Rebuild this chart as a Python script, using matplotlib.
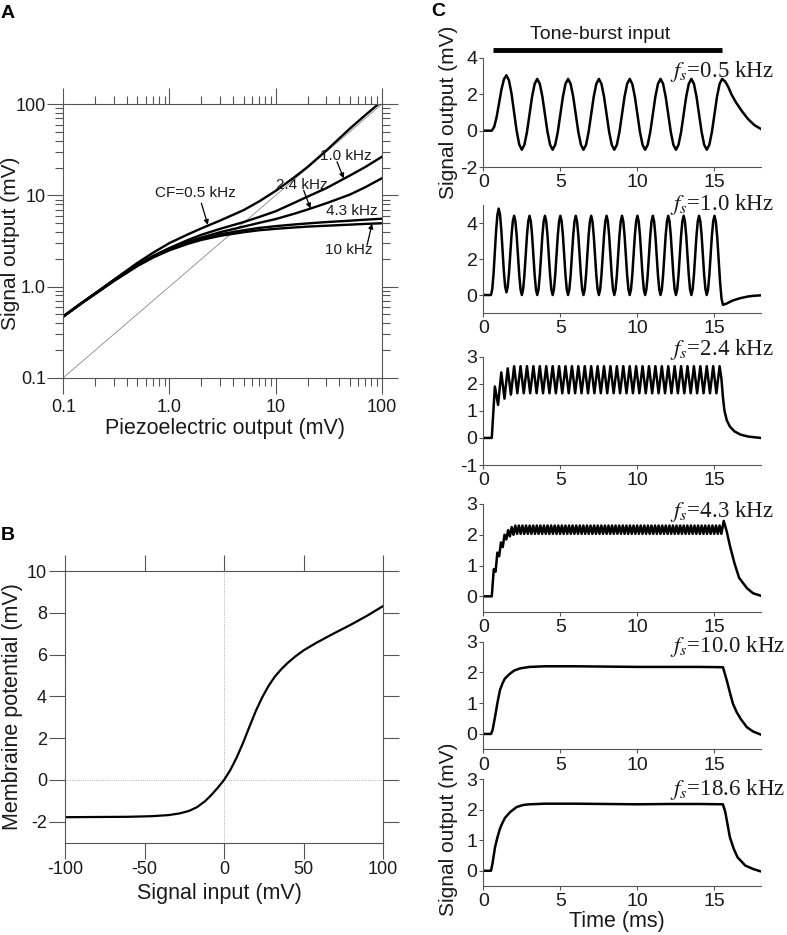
import numpy as np
import matplotlib
matplotlib.use('Agg')
import matplotlib.pyplot as plt
from matplotlib.ticker import LogLocator, NullFormatter, FixedLocator, FixedFormatter

plt.rcParams['font.family'] = ['Liberation Sans', 'DejaVu Sans']
plt.rcParams['mathtext.fontset'] = 'stix'
plt.rcParams['axes.unicode_minus'] = False

# ---------------- data ----------------
# A: signal output vs piezoelectric output for each CF
piezo_mV = [0.1, 0.15, 0.2, 0.3, 0.5, 0.7, 1, 1.5, 2, 3, 5, 7, 10, 15, 20, 30, 50, 70, 100]
out_cf05 = [0.47, 0.665, 0.845, 1.19, 1.82, 2.35, 3.0, 3.75, 4.35, 5.3, 6.9, 8.6, 11.2, 15.8, 20.5, 31.0, 54.0, 76.0, 108.0]
out_cf10 = [0.47, 0.665, 0.84, 1.175, 1.74, 2.17, 2.65, 3.25, 3.7, 4.3, 5.1, 5.8, 6.7, 8.3, 9.7, 12.0, 16.5, 20.5, 26.5]
out_cf24 = [0.47, 0.665, 0.84, 1.17, 1.72, 2.14, 2.6, 3.1, 3.45, 3.95, 4.55, 5.0, 5.5, 6.3, 7.0, 8.2, 10.2, 12.3, 15.4]
out_cf43 = [0.47, 0.66, 0.835, 1.16, 1.7, 2.11, 2.55, 3.02, 3.35, 3.75, 4.15, 4.4, 4.6, 4.8, 4.93, 5.1, 5.28, 5.42, 5.55]
out_cf100 = [0.47, 0.66, 0.83, 1.15, 1.68, 2.08, 2.5, 2.95, 3.25, 3.6, 3.95, 4.15, 4.3, 4.45, 4.55, 4.65, 4.78, 4.87, 4.95]

# B: membrane potential vs signal input
sig_in = [-100, -80, -60, -45, -35, -28, -22, -17, -12, -8, -4, 0, 4, 8, 12, 16, 20, 24, 28,
          32, 36, 40, 45, 50, 58, 68, 80, 90, 100]
memb_pot = [-1.78, -1.77, -1.76, -1.73, -1.68, -1.6, -1.48, -1.3, -1.02, -0.72, -0.38, 0.0,
            0.48, 1.08, 1.78, 2.55, 3.3, 3.95, 4.5, 4.95, 5.3, 5.6, 5.92, 6.2, 6.56, 6.97,
            7.44, 7.86, 8.32]

# C: time traces
tone_on, tone_off = 0.6, 15.5
# shape of one half cycle (fraction of time -> fraction of swing)
half_frac = [1/6, 2/6, 3/6, 4/6, 5/6]
half_shape = [0.07, 0.25, 0.5, 0.75, 0.93]

# 0.5 kHz
fs05_first, fs05_peaks, fs05_troughs = 1.5, [3.05] + [2.85] * 7, [-1.05] * 7
fs05_lead_t, fs05_lead_v = [0, 0.55], [0, 0]
fs05_tail_t = [15.7, 15.9, 16.1, 16.4, 16.8, 17.2, 17.6, 18.0]
fs05_tail_v = [2.7, 2.4, 2.0, 1.55, 1.05, 0.62, 0.3, 0.1]

# 1.0 kHz
fs10_first, fs10_peaks, fs10_troughs = 1.0, [4.8] + [4.4] * 14, [0.15] + [0.0] * 13
fs10_lead_t, fs10_lead_v = [0, 0.5], [0, 0]
fs10_drop_t, fs10_drop_v = [15.55], [-0.55]
fs10_tail_t = [15.8, 16.2, 16.7, 17.2, 17.6, 18.0]
fs10_tail_v = [-0.47, -0.3, -0.17, -0.08, -0.04, -0.02]

# 2.4 kHz
fs24_first = 0.75
fs24_peaks = [1.9, 2.42, 2.57] + [2.65] * 33
fs24_troughs = [1.22, 1.45, 1.6] + [1.65] * 32
fs24_lead_t, fs24_lead_v = [0, 0.55], [0, 0]
fs24_tail_t = [15.45, 15.55, 15.65, 15.8, 16.0, 16.3, 16.7, 17.2, 18.0]
fs24_tail_v = [2.2, 1.5, 1.0, 0.65, 0.42, 0.24, 0.12, 0.05, 0.0]

# 4.3 kHz
fs43_first = 0.68
fs43_peaks = [0.88, 1.42, 1.75, 2.0, 2.15, 2.25] + [2.3] * 58
fs43_troughs = [0.8, 1.3, 1.6, 1.85, 1.95, 2.0] + [2.03] * 58
fs43_lead_t, fs43_lead_v = [0, 0.55], [0, 0]
fs43_tail_t = [15.6, 15.8, 16.0, 16.3, 16.6, 17.1, 17.5, 18.0]
fs43_tail_v = [2.45, 2.1, 1.65, 1.07, 0.6, 0.27, 0.1, 0.02]

# 10.0 kHz
fs100_t = [0, 0.5, 0.6, 0.76, 0.92, 1.08, 1.25, 1.4, 1.73, 2.0, 2.37, 3.0, 4, 6, 8, 10, 12, 14,
           15.55, 15.8, 16.0, 16.2, 16.45, 16.7, 17.1, 17.5, 18.0]
fs100_v = [0, 0, 0.12, 0.55, 1.02, 1.42, 1.65, 1.8, 1.96, 2.06, 2.13, 2.18, 2.2, 2.2, 2.19, 2.18,
           2.18, 2.18, 2.17, 1.74, 1.35, 0.98, 0.7, 0.49, 0.22, 0.08, -0.02]

# 18.6 kHz
fs186_t = [0, 0.5, 0.6, 0.76, 0.92, 1.08, 1.25, 1.4, 1.73, 2.16, 2.6, 3.0, 4, 6, 8, 10, 12, 14,
           15.55, 15.7, 16.0, 16.25, 16.5, 17.0, 17.5, 18.0]
fs186_v = [0, 0, 0.25, 0.77, 1.1, 1.38, 1.58, 1.73, 1.92, 2.09, 2.16, 2.18, 2.2, 2.2, 2.19, 2.18,
           2.19, 2.19, 2.18, 1.93, 1.1, 0.72, 0.44, 0.17, 0.06, -0.02]

fs_labels = ['0.5', '1.0', '2.4', '4.3', '10.0', '18.6']


def extrema(t_first, fs_khz, peaks, troughs):
    half = 0.5 / fs_khz
    vals = []
    for i in range(len(peaks) + len(troughs)):
        vals.append(peaks[i // 2] if i % 2 == 0 else troughs[i // 2])
    times = list(t_first + half * np.arange(len(vals)))
    return times, vals


def shaped(ts, vs, frac=None, shape=None):
    if frac is None:
        return list(ts), list(vs)
    out_t, out_v = [ts[0]], [vs[0]]
    for i in range(1, len(ts)):
        for f, s in zip(frac, shape):
            out_t.append(ts[i-1] + f * (ts[i] - ts[i-1]))
            out_v.append(vs[i-1] + s * (vs[i] - vs[i-1]))
        out_t.append(ts[i])
        out_v.append(vs[i])
    return out_t, out_v


def osc_trace(lead_t, lead_v, first, fs, peaks, troughs, tail_t, tail_v,
              drop_t=(), drop_v=(), frac=None, shape=None):
    et, ev = extrema(first, fs, peaks, troughs)
    ct = [lead_t[-1]] + et + list(drop_t)
    cv = [lead_v[-1]] + ev + list(drop_v)
    ct, cv = shaped(ct, cv, frac, shape)
    t = list(lead_t[:-1]) + ct + list(tail_t)
    v = list(lead_v[:-1]) + cv + list(tail_v)
    return t, v


traces = [
    osc_trace(fs05_lead_t, fs05_lead_v, fs05_first, 0.5, fs05_peaks, fs05_troughs,
              fs05_tail_t, fs05_tail_v, frac=half_frac, shape=half_shape),
    osc_trace(fs10_lead_t, fs10_lead_v, fs10_first, 1.0, fs10_peaks, fs10_troughs,
              fs10_tail_t, fs10_tail_v, fs10_drop_t, fs10_drop_v,
              frac=half_frac, shape=half_shape),
    osc_trace(fs24_lead_t, fs24_lead_v, fs24_first, 2.4, fs24_peaks, fs24_troughs,
              fs24_tail_t, fs24_tail_v),
    osc_trace(fs43_lead_t, fs43_lead_v, fs43_first, 4.3, fs43_peaks, fs43_troughs,
              fs43_tail_t, fs43_tail_v),
    (fs100_t, fs100_v),
    (fs186_t, fs186_v),
]

# ---------------- figure ----------------
W, H = 787, 935
fig = plt.figure(figsize=(W / 100, H / 100), dpi=100)
spine_c = '#555555'
txt_c = '#1a1a1a'


def px_axes(left, top, right, bottom):
    return fig.add_axes([left / W, 1 - bottom / H, (right - left) / W, (bottom - top) / H])


# ---- panel A
axA = px_axes(63.3, 104.3, 381.7, 377.7)
axA.set_xscale('log')
axA.set_yscale('log')
axA.plot([0.1, 100], [0.1, 100], color='#888888', lw=0.6)
for yv in [out_cf05, out_cf10, out_cf24, out_cf43, out_cf100]:
    axA.plot(piezo_mV, yv, color='k', lw=1.7)
axA.set_xlim(0.1, 100)
axA.set_ylim(0.1, 100)
for ax_ in (axA.xaxis, axA.yaxis):
    ax_.set_major_locator(FixedLocator([0.1, 1, 10, 100]))
    ax_.set_major_formatter(FixedFormatter(['0.1', '1.0', '10', '100']))
    ax_.set_minor_locator(LogLocator(base=10, subs=np.arange(2, 10)))
    ax_.set_minor_formatter(NullFormatter())
axA.tick_params(which='both', direction='out', top=True, right=True,
                color=spine_c, width=0.8, labelsize=13, labelcolor=txt_c)
axA.tick_params(which='major', length=11.5)
axA.tick_params(which='minor', length=5.8)
axA.tick_params(axis='x', pad=3.5)
axA.tick_params(axis='y', pad=1)
for s in axA.spines.values():
    s.set_color(spine_c)
    s.set_linewidth(0.8)
axA.set_xlabel('Piezoelectric output (mV)', fontsize=15.5, color=txt_c)
axA.set_ylabel('Signal output (mV)', fontsize=15, color=txt_c)
axA.xaxis.set_label_coords(0.508, -0.147)
axA.yaxis.set_label_coords(-0.136, 0.49)

arr = dict(arrowstyle='-|>', color='k', lw=0.9, mutation_scale=7, shrinkA=0, shrinkB=0)
axA.text(1.75, 10.6, 'CF=0.5 kHz', fontsize=11, ha='center', va='center', color=txt_c)
axA.annotate('', xy=(2.3, 4.75), xytext=(2.0, 8.2), arrowprops=arr)
axA.text(46.2, 27.2, '1.0 kHz', fontsize=11, ha='center', va='center', color=txt_c)
axA.annotate('', xy=(43.9, 15.4), xytext=(37.9, 23.4), arrowprops=arr)
axA.text(17.7, 13.0, '2.4 kHz', fontsize=11, ha='center', va='center', color=txt_c)
axA.annotate('', xy=(21.3, 7.2), xytext=(18.4, 11.4), arrowprops=arr)
axA.text(52.6, 6.7, '4.3 kHz', fontsize=11, ha='center', va='center', color=txt_c)
axA.text(48.9, 2.5, '10 kHz', fontsize=11, ha='center', va='center', color=txt_c)
axA.annotate('', xy=(81.1, 4.9), xytext=(72.8, 2.84), arrowprops=arr)

# ---- panel B
axB = px_axes(65, 571, 383, 842.7)
axB.axvline(0, color='#999999', lw=0.6, ls=':')
axB.axhline(0, color='#999999', lw=0.6, ls=':')
axB.plot(sig_in, memb_pot, color='k', lw=1.6)
axB.set_xlim(-100, 100)
axB.set_ylim(-3, 10)
axB.set_xticks([-100, -50, 0, 50, 100])
axB.set_yticks([-2, 0, 2, 4, 6, 8, 10])
axB.tick_params(direction='out', top=True, right=True, length=11.5, width=0.8,
                color=spine_c, labelsize=13, labelcolor=txt_c)
axB.tick_params(axis='x', pad=1.5)
axB.tick_params(axis='y', pad=1.5)
for s in axB.spines.values():
    s.set_color(spine_c)
    s.set_linewidth(0.8)
axB.set_xlabel('Signal input (mV)', fontsize=15.5, color=txt_c)
axB.set_ylabel('Membraine potential (mV)', fontsize=15.5, color=txt_c)
axB.xaxis.set_label_coords(0.485, -0.148)
axB.yaxis.set_label_coords(-0.132, 0.5)

# ---- panel C
c_rows = [(58, 167), (205, 313), (356.7, 465), (504, 611.7), (641.7, 749.3), (779.3, 886)]
c_ylims = [(-2, 4), (-1, 5), (-1, 3), (-0.5, 3), (-0.5, 3), (-0.5, 3)]
c_yticks = [[-2, 0, 2, 4], [0, 2, 4], [-1, 0, 1, 2, 3], [0, 1, 2, 3], [0, 1, 2, 3], [0, 1, 2, 3]]
c_label_y = [0.874, 1.009, 1.062, 0.929, 0.954, 0.90]
axesC = []
for k, (top, bot) in enumerate(c_rows):
    ax = px_axes(483.3, top, 760.7, bot)
    t, v = traces[k]
    ax.plot(t, v, color='k', lw=1.8, solid_joinstyle='round')
    ax.set_xlim(0, 18)
    ax.set_ylim(*c_ylims[k])
    ax.set_xticks([0, 5, 10, 15])
    ax.set_yticks(c_yticks[k])
    ax.spines['top'].set_visible(False)
    ax.spines['right'].set_visible(False)
    for s in ('left', 'bottom'):
        ax.spines[s].set_color(spine_c)
        ax.spines[s].set_linewidth(0.8)
    ax.tick_params(direction='out', length=3, width=0.8, color=spine_c,
                   labelsize=14, labelcolor=txt_c)
    ax.tick_params(axis='x', pad=2.2)
    ax.tick_params(axis='y', pad=1.2)
    ax.text(12.1, c_ylims[k][0] + c_label_y[k] * (c_ylims[k][1] - c_ylims[k][0]),
            r'$f_s$=' + fs_labels[k] + ' kHz', family=['Liberation Serif', 'DejaVu Serif'],
            fontsize=16.5, ha='left', va='center', color=txt_c, clip_on=False)
    axesC.append(ax)

axC1 = axesC[0]
axC1.plot([tone_on, tone_off], [4.44, 4.44], color='k', lw=3.5, solid_capstyle='butt', clip_on=False)
axC1.text(7.6, 5.27, 'Tone-burst input', fontsize=14, ha='center', va='center',
          color=txt_c, clip_on=False)

fig.text(448 / W, 1 - 112 / H, 'Signal output (mV)', rotation=90, fontsize=15,
         ha='center', va='center', color=txt_c)
fig.text(448 / W, 1 - 829 / H, 'Signal output (mV)', rotation=90, fontsize=15,
         ha='center', va='center', color=txt_c)
fig.text(617 / W, 1 - 922 / H, 'Time (ms)', fontsize=15.5, ha='center', va='center', color=txt_c)

# panel letters
fig.text(8 / W, 1 - 13 / H, 'A', fontsize=14, fontweight='bold', ha='center', va='center')
fig.text(8 / W, 1 - 535 / H, 'B', fontsize=14, fontweight='bold', ha='center', va='center')
fig.text(438 / W, 1 - 12 / H, 'C', fontsize=14, fontweight='bold', ha='center', va='center')

fig.savefig('out.png', dpi=100)
